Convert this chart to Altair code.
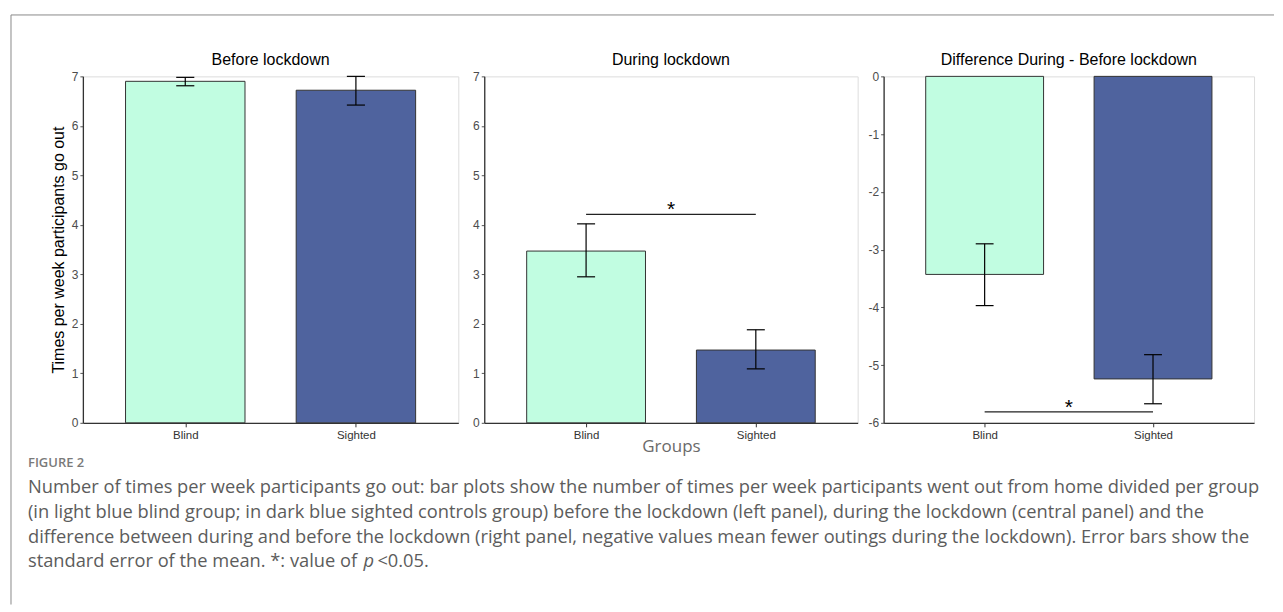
import altair as alt
import pandas as pd

# ---------------- data ----------------
groups = ["Blind", "Sighted"]
group_pos = [1, 2]
bar_colors = ["#C1FDE1", "#4F639E"]

before_mean = [6.90, 6.72]
before_lo = [6.81, 6.42]
before_hi = [6.98, 7.00]

during_mean = [3.47, 1.47]
during_lo = [2.95, 1.09]
during_hi = [4.02, 1.88]

diff_mean = [-3.43, -5.24]
diff_lo = [-3.97, -5.67]
diff_hi = [-2.90, -4.82]

panel_titles = ["Before lockdown", "During lockdown", "Difference During - Before lockdown"]
y_title = "Times per week participants go out"
x_title = "Groups"

sig_during = 4.21
sig_diff = -5.81

caption_head = "FIGURE 2"
caption_lines = [
    "Number of times per week participants go out: bar plots show the number of times per week participants went out from home divided per group",
    "(in light blue blind group; in dark blue sighted controls group) before the lockdown (left panel), during the lockdown (central panel) and the",
    "difference between during and before the lockdown (right panel, negative values mean fewer outings during the lockdown). Error bars show the",
]
caption_last = ["standard error of the mean. *: value of", "p", "<0.05."]

PLOT_H = 347
BLACK = "#222222"
TEXT_GREY = "#5c5c5c"
CAP_SIZE = 18.3


def panel(mean, lo, hi, domain, ticks, width, title, ytitle=None, xtitle=None, sig=None):
    df = pd.DataFrame({"group": groups, "pos": group_pos, "mean": mean, "lo": lo, "hi": hi,
                       "color": bar_colors})
    xs = alt.Scale(domain=[0.4, 2.6], nice=False, zero=False)
    ys = alt.Scale(domain=domain, nice=False, zero=False)

    xaxis_kw = dict(values=[1, 2], labelExpr="datum.value == 1 ? 'Blind' : 'Sighted'",
                    grid=False, tickSize=4, tickColor="#333333", domainColor="#333333",
                    domainWidth=1.3, labelColor="#333333", labelFontSize=11.5,
                    labelFont="Liberation Sans", labelPadding=3)
    if xtitle:
        xaxis = alt.Axis(title=xtitle, titleFont="Open Sans", titleFontSize=17,
                         titleFontWeight="normal", titleColor="#6a6a6a", titlePadding=-3,
                         **xaxis_kw)
    else:
        xaxis = alt.Axis(title=None, **xaxis_kw)

    label_expr = "datum.value == 0 ? '0' : (datum.value < 0 ? '-' + abs(datum.value) : '' + datum.value)"
    yaxis_kw = dict(values=ticks, labelExpr=label_expr, grid=False, tickSize=3,
                    tickColor="#555555", domainColor="#333333", domainWidth=1.3,
                    labelColor="#4d4d4d", labelFontSize=12, labelFont="Liberation Sans",
                    labelPadding=2)
    if ytitle:
        yaxis = alt.Axis(title=ytitle, titleFont="Liberation Sans", titleFontSize=16,
                         titleFontWeight="normal", titleColor="black", titlePadding=5,
                         **yaxis_kw)
    else:
        yaxis = alt.Axis(title=None, **yaxis_kw)

    base = alt.Chart(df).transform_calculate(
        x0="datum.pos - 0.35", x1="datum.pos + 0.35",
        c0="datum.pos - 0.053", c1="datum.pos + 0.053", zero="0"
    )
    bars = base.mark_bar(stroke="#333333", strokeWidth=1).encode(
        x=alt.X("x0:Q", scale=xs, axis=xaxis),
        x2="x1:Q",
        y=alt.Y("mean:Q", scale=ys, axis=yaxis),
        y2="zero:Q",
        color=alt.Color("color:N", scale=None),
    )
    err = base.mark_rule(color="black", strokeWidth=1.2).encode(
        x=alt.X("pos:Q", scale=xs), y=alt.Y("lo:Q", scale=ys), y2="hi:Q")
    cap_lo = base.mark_rule(color="black", strokeWidth=1.2).encode(
        x=alt.X("c0:Q", scale=xs), x2="c1:Q", y=alt.Y("lo:Q", scale=ys))
    cap_hi = base.mark_rule(color="black", strokeWidth=1.2).encode(
        x=alt.X("c0:Q", scale=xs), x2="c1:Q", y=alt.Y("hi:Q", scale=ys))

    tdf = pd.DataFrame({"t": [title]})
    ttl = alt.Chart(tdf).mark_text(fontSize=16, font="Liberation Sans", color="black",
                                   align="center", baseline="alphabetic").encode(
        x=alt.value(width / 2), y=alt.value(-11), text="t:N")
    layers = [bars, err, cap_lo, cap_hi, ttl]

    if sig is not None:
        sdf = pd.DataFrame({"a": [group_pos[0]], "b": [group_pos[1]], "y": [sig], "star": ["*"]})
        sbase = alt.Chart(sdf).transform_calculate(mid="(datum.a + datum.b) / 2")
        layers.append(sbase.mark_rule(color=BLACK, strokeWidth=1.3).encode(
            x=alt.X("a:Q", scale=xs), x2="b:Q", y=alt.Y("y:Q", scale=ys)))
        layers.append(sbase.mark_text(fontSize=21, font="Liberation Sans", color="black",
                                      baseline="alphabetic", dy=2).encode(
            x=alt.X("mid:Q", scale=xs), y=alt.Y("y:Q", scale=ys), text="star:N"))

    return layers


W1, W2, W3 = 376, 374, 371

p1_layers = panel(before_mean, before_lo, before_hi, [0, 7], list(range(0, 8)), W1,
                  panel_titles[0], ytitle=y_title)

# decorations (frame and caption), positioned relative to the first panel
deco = pd.DataFrame({"k": [0]})
frame_top = alt.Chart(deco).mark_rule(color="#8a8a8a", strokeWidth=1).encode(
    x=alt.value(-72), x2=alt.value(1193), y=alt.value(-61.5))
frame_left = alt.Chart(deco).mark_rule(color="#8a8a8a", strokeWidth=1).encode(
    x=alt.value(-72), y=alt.value(-61.5), y2=alt.value(529))
head = alt.Chart(deco).mark_text(align="left", baseline="middle", font="Open Sans",
                                 fontSize=13, fontWeight=600, color="#7a7a7a",
                                 text=caption_head).encode(x=alt.value(-55), y=alt.value(387.5))
cap_layers = [frame_top, frame_left, head]
for i, line in enumerate(caption_lines):
    cap_layers.append(alt.Chart(deco).mark_text(
        align="left", baseline="middle", font="Open Sans", fontSize=CAP_SIZE, color=TEXT_GREY,
        text=line).encode(x=alt.value(-55), y=alt.value(412.5 + 24.7 * i)))
last_y = 412.5 + 24.7 * 3
seg_x = [-55, 281, 295]
for j, seg in enumerate(caption_last):
    cap_layers.append(alt.Chart(deco).mark_text(
        align="left", baseline="middle", font="Open Sans", fontSize=CAP_SIZE, color=TEXT_GREY,
        fontStyle="italic" if seg == "p" else "normal", text=seg).encode(
        x=alt.value(seg_x[j]), y=alt.value(last_y)))

p1 = alt.layer(*(p1_layers + cap_layers)).properties(width=W1, height=PLOT_H)
p2 = alt.layer(*panel(during_mean, during_lo, during_hi, [0, 7], list(range(0, 8)), W2,
                      panel_titles[1], xtitle=x_title, sig=sig_during)).properties(
    width=W2, height=PLOT_H)
p3 = alt.layer(*panel(diff_mean, diff_lo, diff_hi, [-6, 0], list(range(-6, 1)), W3,
                      panel_titles[2], sig=sig_diff)).properties(width=W3, height=PLOT_H)

chart = alt.hconcat(p1, p2, p3, spacing=26, bounds="flush").properties(
    padding={"left": 2, "top": 5, "right": 0, "bottom": 0}
).configure_view(stroke=None).configure(font="Liberation Sans")

chart.save("out.html", embed_options={"renderer": "svg", "actions": False})
